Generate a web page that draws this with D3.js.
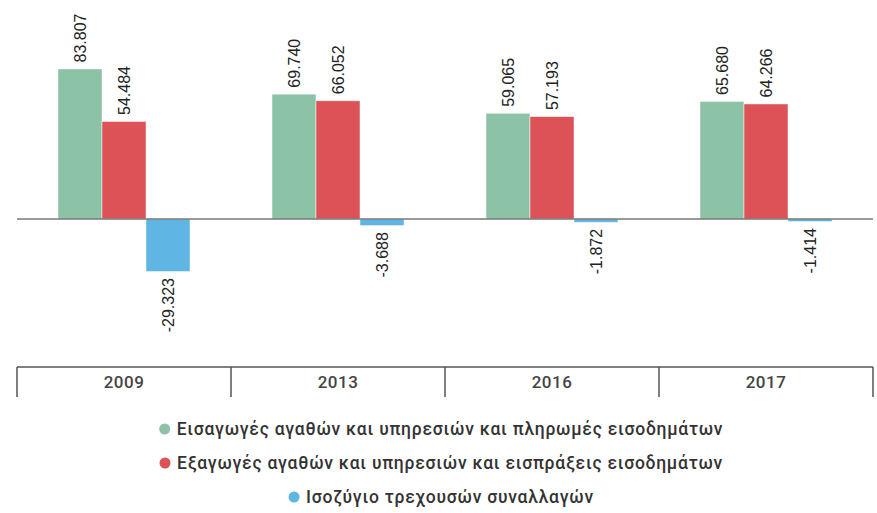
<!DOCTYPE html>
<html>
<head>
<meta charset="utf-8">
<script src="https://cdn.jsdelivr.net/npm/d3@7"></script>
<style>
  body { margin: 0; background: #fff; }
  svg { display: block; }
</style>
</head>
<body>
<div id="chart"></div>
<script>
// data (εκατ. ευρώ)
const years = ["2009", "2013", "2016", "2017"];
const seriesNames = [
  "Εισαγωγές αγαθών και υπηρεσιών και πληρωμές εισοδημάτων",
  "Εξαγωγές αγαθών και υπηρεσιών και εισπράξεις εισοδημάτων",
  "Ισοζύγιο τρεχουσών συναλλαγών"
];
const imports = [83807, 69740, 59065, 65680];
const exportsV = [54484, 66052, 57193, 64266];
const balance = [-29323, -3688, -1872, -1414];
const colors = ["#8cc2a5", "#dc5256", "#5fb5e3"];

const width = 877, height = 513;
const svg = d3.select("#chart").append("svg")
  .attr("width", width).attr("height", height);

const rows = years.map((y, i) => ({year: y, vals: [imports[i], exportsV[i], balance[i]]}));

// scales
const x0 = d3.scaleBand().domain(years).range([17, 873]);
const x1 = d3.scaleBand().domain([0, 1, 2]).range([41, 173]);
const y = d3.scaleLinear().domain([-50000, 110000]).range([308.5, 22.1]);

const fmt = d3.formatLocale({decimal: ",", thousands: ".", grouping: [3], currency: ["", "€"], minus: "-"}).format(",d");

// bars
const groups = svg.append("g").selectAll("g")
  .data(rows).enter().append("g")
  .attr("transform", d => "translate(" + x0(d.year) + ",0)");

groups.selectAll("rect")
  .data(d => d.vals.map((v, k) => ({k: k, v: v})))
  .enter().append("rect")
  .attr("x", d => x1(d.k))
  .attr("width", x1.bandwidth())
  .attr("y", d => y(Math.max(0, d.v)))
  .attr("height", d => Math.abs(y(d.v) - y(0)))
  .attr("fill", d => colors[d.k])
  .attr("stroke", "#fff")
  .attr("stroke-opacity", 0.6)
  .attr("stroke-width", 0.8);

// value labels, rotated
groups.selectAll("text")
  .data(d => d.vals.map((v, k) => ({k: k, v: v})))
  .enter().append("text")
  .attr("transform", d => {
    const cx = x1(d.k) + x1.bandwidth() / 2;
    const cy = d.v >= 0 ? y(d.v) - 6.5 : y(d.v) + 6.5;
    return "translate(" + (cx + 5.5) + "," + cy + ") rotate(-90)";
  })
  .attr("text-anchor", d => d.v >= 0 ? "start" : "end")
  .style("font-family", "'Liberation Sans', Arial, sans-serif")
  .style("font-size", "16px")
  .attr("fill", "#222")
  .text(d => fmt(d.v));

// zero line
svg.append("line")
  .attr("x1", 17).attr("x2", 873)
  .attr("y1", y(0)).attr("y2", y(0))
  .attr("stroke", "#777").attr("stroke-width", 1.5);

// category axis (box style)
const axisTop = 367, axisBottom = 397;
const ax = svg.append("g");
ax.append("line")
  .attr("x1", 17).attr("x2", 873)
  .attr("y1", axisTop).attr("y2", axisTop)
  .attr("stroke", "#555").attr("stroke-width", 1.5);
const edges = years.map(d => x0(d)).concat([x0.range()[1]]);
ax.selectAll(".tick")
  .data(edges).enter().append("line")
  .attr("x1", d => d).attr("x2", d => d)
  .attr("y1", axisTop).attr("y2", axisBottom)
  .attr("stroke", "#555").attr("stroke-width", 1.5);
ax.selectAll("text")
  .data(years).enter().append("text")
  .attr("x", d => x0(d) + x0.bandwidth() / 2)
  .attr("y", 382)
  .attr("dy", "0.35em")
  .attr("text-anchor", "middle")
  .style("font-family", "Roboto, sans-serif")
  .style("font-size", "17px")
  .style("font-weight", "500")
  .style("letter-spacing", "0.5px")
  .attr("fill", "#444")
  .text(d => d);

// legend
const legend = svg.append("g");
const items = legend.selectAll("g")
  .data(seriesNames).enter().append("g");
items.append("text")
  .attr("y", (d, i) => 429 + i * 34)
  .attr("dy", "0.35em")
  .style("font-family", "Roboto, sans-serif")
  .style("font-size", "17.5px")
  .style("font-weight", "500")
  .style("letter-spacing", "0.75px")
  .attr("fill", "#333")
  .text(d => d);
items.each(function(d, i) {
  const g = d3.select(this);
  const w = g.select("text").node().getComputedTextLength();
  const total = w + 15;
  const start = (width - total) / 2 + 4;
  g.select("text").attr("x", start + 15);
  g.insert("circle", "text")
    .attr("cx", start + 3)
    .attr("cy", 429 + i * 34)
    .attr("r", 5.5)
    .attr("fill", colors[i]);
});
</script>
</body>
</html>
